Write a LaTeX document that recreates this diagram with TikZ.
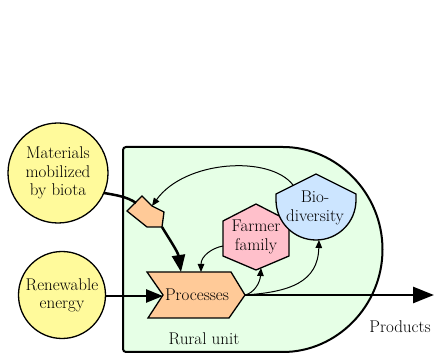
\documentclass[tikz,border=0pt]{standalone}
\usepackage{fontspec}
\usetikzlibrary{arrows.meta}
\definecolor{ylw}{RGB}{255,250,155}
\definecolor{grn}{RGB}{230,255,230}
\definecolor{org}{RGB}{255,202,152}
\definecolor{pnk}{RGB}{255,192,203}
\definecolor{blu}{RGB}{204,229,255}
\begin{document}
\begin{tikzpicture}[x=1pt,y=-1pt,
  lbl/.style={font=\fontsize{17}{18.5}\selectfont, align=center, inner sep=0pt},
  outline/.style={draw=black, line width=1.3pt, line join=miter},
  boldline/.style={line width=2.5pt},
  thinarrow/.style={line width=1pt, -{Triangle[length=8pt,width=6.5pt]}},
  bigarrow/.style={line width=2.5pt, -{Triangle[length=17pt,width=13pt]}},
  prodarrow/.style={line width=2.5pt, -{Triangle[length=21pt,width=16pt]}},
]
\useasboundingbox (0,0) rectangle (437,358);

% rural unit
\draw[fill=grn, line width=2pt, rounded corners=3pt] (123,147) -- (280,147)
  arc[start angle=90,end angle=-90,radius=102.5pt] -- (123,352) -- cycle;

% sources
\draw[outline, fill=ylw] (58,173) circle[radius=50pt];
\node[lbl] (mat) at (58,173) {Materials\\mobilized\\by biota};
\draw[outline, fill=ylw] (62,295) circle[radius=43.5pt];
\node[lbl] (ren) at (62,295.5) {Renewable\\energy};

% interaction symbol
\draw[outline, fill=org] (142,196) -- (152,206) -- (164,212) -- (162,227) -- (147,227) -- (127,211) -- cycle;
\node[inner sep=0pt] (inter) at (148,213) {};

% processes
\draw[outline, fill=org] (147,272) -- (231,272) -- (245,295) -- (229,318) -- (148,318) -- (163,295) -- cycle;
\node[lbl] (proc) at (197,295) {Processes};

% farmer family
\draw[outline, fill=pnk] (256,204) -- (289,221) -- (289,256) -- (256,270) -- (223,256) -- (223,221) -- cycle;
\node[lbl] (farm) at (256,237) {Farmer\\family};

% biodiversity
\draw[outline, fill=blu] (316,174) -- (356,194) -- (356,200)
  arc[start angle=0,end angle=-180,radius=40pt] -- (276,194) -- cycle;
\node[lbl] (bio) at (315,208) {Bio-\\diversity};

\node[lbl] (rural) at (204,339) {Rural unit};
\node[lbl] (prod) at (400,327) {Products};

% connector end points
\coordinate (matOut) at (104,193);
\coordinate (interIn) at (136,203);
\coordinate (interOut) at (162,227);
\coordinate (interSide) at (152,206);
\coordinate (procTopA) at (181,272);
\coordinate (procTopB) at (201,272);
\coordinate (renOut) at (105,296);
\coordinate (procIn) at (163,296);
\coordinate (procOut) at (245,295);
\coordinate (prodEnd) at (434,295);
\coordinate (farmLeft) at (223,246);
\coordinate (farmBot) at (261,268);
\coordinate (bioTop) at (293,185);
\coordinate (bioBot) at (319,240);

% flows
\draw[boldline] (matOut) .. controls (116,195) and (128,197) .. (interIn);
\draw[bigarrow] (interOut) .. controls (168,237) and (178,252) .. (procTopA);
\draw[bigarrow] (renOut) -- (procIn);
\draw[prodarrow] (procOut) -- (prodEnd);
\draw[thinarrow] (bioTop) .. controls (270,155) and (185,160) .. (interSide);
\draw[thinarrow] (farmLeft) .. controls (212,248) and (201,256) .. (procTopB);
\draw[thinarrow] (procOut) .. controls (254,293) and (260,283) .. (farmBot);
\draw[thinarrow] (procOut) .. controls (290,292) and (318,282) .. (bioBot);
\end{tikzpicture}
\end{document}
